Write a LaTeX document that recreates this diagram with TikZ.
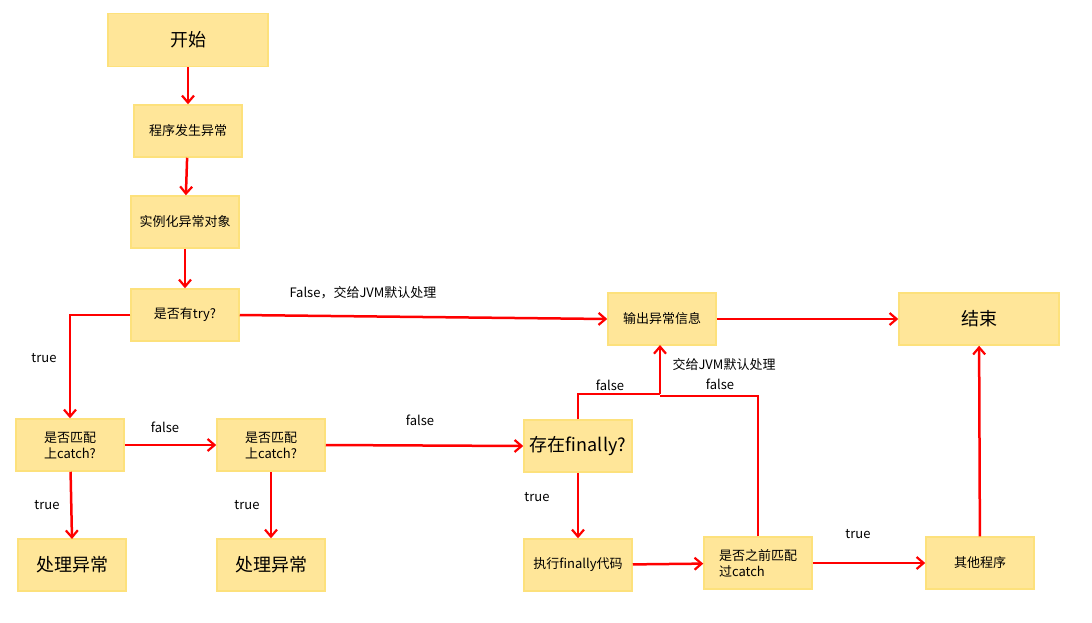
\documentclass[tikz,border=0pt]{standalone}
\usepackage{fontspec}
\setmainfont{Noto Sans CJK SC}
\usetikzlibrary{arrows.meta}
\begin{document}
\begin{tikzpicture}[x=1pt,y=-1pt,
  box/.style={draw=yellow!60!orange!50, line width=1.5pt, fill={rgb,255:red,255;green,230;blue,153}, minimum width=108pt, minimum height=52pt, inner sep=2pt, align=left, font=\fontsize{13}{16}\selectfont},
  big/.style={box, font=\fontsize{18}{22}\selectfont},
  arr/.style={draw=red, line width=2.5pt, -{Straight Barb[length=7pt,width=12pt,line width=2.2pt]}},
  ln/.style={draw=red, line width=2.5pt},
  lab/.style={font=\fontsize{13}{16}\selectfont}]
\useasboundingbox (0,0) rectangle (1092,622);
\fill[white] (0,0) rectangle (1092,622);
\node[big, minimum width=160pt, minimum height=53pt] (start) at (188,40) {开始};
\node[box] (occur) at (188,131) {程序发生异常};
\node[box] (inst) at (185,222) {实例化异常对象};
\node[box] (try) at (185,315) {是否有try?};
\node[box] (out) at (662,319) {输出异常信息};
\node[big, minimum width=160pt] (end) at (979,319) {结束};
\node[box] (c1) at (70,445) {是否匹配\\上catch?};
\node[box] (c2) at (271,445) {是否匹配\\上catch?};
\node[big] (fin) at (578,446) {存在finally?};
\node[big] (h1) at (72,565) {处理异常};
\node[big] (h2) at (271,565) {处理异常};
\node[box] (exe) at (578,565) {执行finally代码};
\node[box] (prev) at (758,563) {是否之前匹配\\过catch};
\node[box] (other) at (980,563) {其他程序};
\coordinate (j1) at (578,394);
\coordinate (j2) at (660,394);
\coordinate (j3) at (758,396);
\coordinate (j4) at (660,396);
\draw[arr] (start) -- (occur);
\draw[arr] (occur) -- (inst);
\draw[arr] (inst) -- (try);
\draw[arr] (try.west) -| (c1.north);
\draw[arr] (try.east) -- (out.west);
\draw[arr] (out) -- (end);
\draw[arr] (c1) -- (c2);
\draw[arr] (c2.east) -- (fin.west);
\draw[arr] (c1) -- (72,539);
\draw[arr] (c2) -- (h2);
\draw[arr] (fin) -- (exe);
\draw[ln] (fin.north) -- (j1) -- (j2);
\draw[arr] (j2) -- (660,345);
\draw[ln] (prev.north) -- (j3) -- (j4);
\draw[arr] (exe) -- (prev);
\draw[arr] (prev) -- (other);
\draw[arr] (other) -- (end);
\node[lab] at (363,293) {False，交给JVM默认处理};
\node[lab] at (44,358) {true};
\node[lab] at (165,427) {false};
\node[lab] at (420,420) {false};
\node[lab] at (47,505) {true};
\node[lab] at (247,505) {true};
\node[lab] at (537,497) {true};
\node[lab] at (610,385) {false};
\node[lab] at (724,365) {交给JVM默认处理};
\node[lab] at (720,384) {false};
\node[lab] at (858,534) {true};
\end{tikzpicture}
\end{document}
